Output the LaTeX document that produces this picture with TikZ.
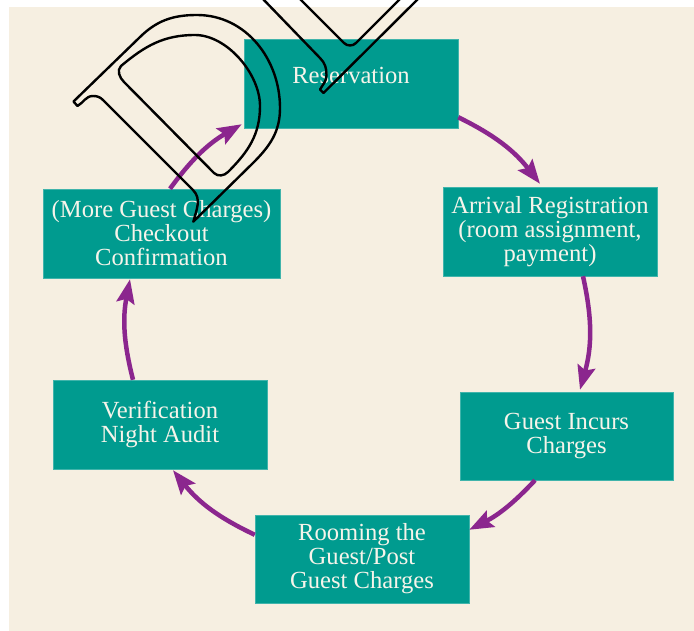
\documentclass[tikz,border=0pt]{standalone}
\usepackage{fontspec}
\setmainfont{Liberation Serif}
\usetikzlibrary{arrows.meta,calc}
\definecolor{bgbeige}{RGB}{246,239,225}
\definecolor{boxteal}{RGB}{0,155,143}
\definecolor{arrpurple}{RGB}{139,38,142}
\definecolor{boxtext}{RGB}{246,244,234}
\begin{document}
\begin{tikzpicture}[x=1pt,y=-1pt,
  procbox/.style={rectangle, fill=boxteal, draw=boxteal!75!white, line width=0.5pt,
    text=boxtext, align=center, inner sep=0pt, font=\fontsize{24.6}{24}\selectfont},
  flow/.style={draw=arrpurple, line width=4.5pt, -{Stealth[length=24pt,width=18pt,inset=4pt]}},
  wmark/.style={draw=black, line width=2.4pt, line join=round, line cap=round}]
\useasboundingbox (0,0) rectangle (694,631);
\fill[bgbeige] (9,7) rectangle (694,631);

\node[procbox, minimum width=214pt, minimum height=89pt, text height=15pt, text depth=14pt] (res) at (351,83.5) {Reservation};
\node[procbox, minimum width=214pt, minimum height=89pt] (arr) at (550,231.5) {Arrival Registration\\(room assignment,\\payment)};
\node[procbox, minimum width=213pt, minimum height=88pt] (guest) at (566.5,436) {Guest Incurs\\Charges};
\node[procbox, minimum width=214pt, minimum height=88pt] (room) at (362,559) {Rooming the\\Guest/Post\\Guest Charges};
\node[procbox, minimum width=214pt, minimum height=89pt] (ver) at (160,424.5) {Verification\\Night Audit};
\node[procbox, minimum width=237pt, minimum height=89pt] (chk) at (161.5,233.5) {(More Guest Charges)\\Checkout\\Confirmation};

\draw[flow] ($(res.south east)+(0,-11)$) to[bend left=13] ($(arr.north)+(-10,-3)$);
\draw[flow] ($(arr.south)+(33,0)$) to[bend left=14] ($(guest.north)+(13.5,-2)$);
\draw[flow] ($(guest.south)+(-31.5,0)$) to[bend left=10] ($(room.north east)+(0,15)$);
\draw[flow] ($(room.north west)+(0,20)$) to[bend left=13] ($(ver.south)+(13,1)$);
\draw[flow] ($(ver.north)+(-27,0)$) to[bend left=12.6] ($(chk.south)+(-31.5,1)$);
\draw[flow] ($(chk.north)+(8.5,0)$) to[bend left=12] ($(res.south west)+(-2,-4)$);

% watermark outlines
\draw[wmark] (73.5,101.5) -- (139,38) to[out=45,in=180] (197,15) to[out=0,in=90] (280,108)
  to[out=-90,in=45] (253,163) -- (193.3,221.7) to[out=75,in=-45] (193,190) -- (103,100)
  to[out=135,in=0] (93,96) to[out=180,in=30] (77.5,106) -- cycle;
\draw[wmark] (121,66) to[out=40,in=180] (195,35) to[out=0,in=90,looseness=0.85] (260,106)
  to[out=-90,in=45] (228,172) to[out=225,in=-45] (214,173) -- (124,82)
  to[out=135,in=225] (121,66) -- cycle;
\draw[wmark] (262,-2) -- (320,58) to[out=-45,in=90] (326.5,75) to[out=-90,in=60] (320,89.5)
  -- (323.5,93) -- (419,-2);
\draw[wmark] (299,-2) -- (344,43) to[out=-45,in=-135] (356,43) -- (401,-2);
\end{tikzpicture}
\end{document}
